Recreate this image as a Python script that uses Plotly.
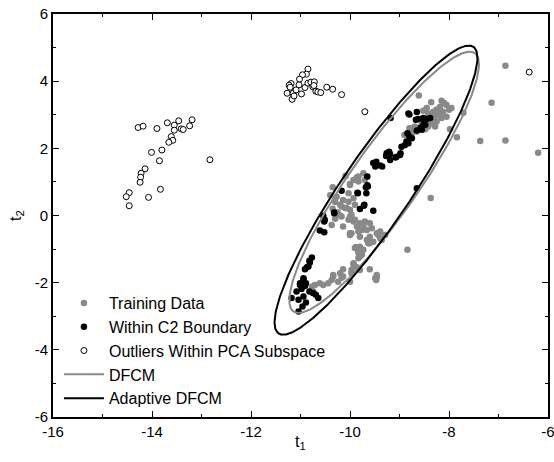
import numpy as np
import plotly.graph_objects as go

# ---------------- data ----------------
train_x = [-8.61, -8.36, -8.15, -8.05, -8.18, -8.25, -8.32, -8.12, -8.22, -8.32, -8.42, -8.52, -8.05, -8.15,
           -8.25, -8.35, -8.42, -8.48, -8.59, -8.69, -8.65, -8.75, -8.72, -7.71, -7.14, -7.98, -7.84, -7.37,
           -6.86, -8.28, -6.86, -6.20, -8.37, -8.84, -8.00, -8.10, -8.45, -8.20, -8.40, -8.30, -7.95, -8.55,
           -8.90, -8.80, -8.75,
           -10.35, -10.00, -9.83, -10.09, -9.86, -9.73, -9.70, -9.93, -10.00, -9.83, -10.03, -10.27, -10.14,
           -10.03, -9.93, -10.20, -10.10, -10.00, -9.90, -9.97, -10.03, -9.90, -9.80, -9.70, -9.60, -9.86,
           -9.76, -9.66, -9.56, -9.46, -9.60, -9.53, -9.63, -9.39, -10.00, -10.14, -9.90, -9.83, -9.76, -9.83,
           -9.93, -9.86, -9.97, -10.14, -10.17, -10.34, -9.46, -10.37, -10.17, -10.17, -10.07, -10.00, -9.93,
           -9.73, -10.00, -9.80, -9.43, -9.36, -9.63, -9.88, -9.29, -9.39, -9.83, -9.97, -9.66, -9.60, -9.80,
           -9.73, -9.83, -9.80, -9.93, -9.60, -9.46, -9.47, -10.20, -10.14, -10.24, -10.37, -10.44, -10.54,
           -10.34, -10.00, -9.97, -9.80, -10.74, -10.77, -10.61, -10.71, -9.49, -10.40, -10.30, -10.25,
           -10.30, -10.20, -10.35]
train_y = [3.57, 3.37, 3.42, 3.29, 3.24, 3.16, 3.09, 3.09, 2.99, 2.93, 3.04, 3.12, 2.94, 2.90,
           2.80, 2.75, 2.65, 2.57, 2.60, 2.65, 2.50, 2.45, 2.55, 3.06, 3.36, 2.57, 2.33, 2.22,
           2.23, 2.65, 4.46, 1.87, 0.52, -1.02, 3.15, 3.35, 3.20, 3.05, 2.85, 2.85, 3.20, 2.75,
           2.40, 2.60, 2.60,
           0.84, 0.94, 1.16, 1.18, 1.14, 1.26, 1.06, 1.06, 0.91, 1.01, 0.66, 0.56, 0.46,
           0.41, 0.51, 0.32, 0.22, 0.17, 0.32, 0.02, -0.13, -0.13, -0.23, -0.18, -0.23, -0.33,
           -0.43, -0.43, -0.38, -0.53, -0.63, -0.78, -0.78, -0.68, -0.53, -0.33, -0.97, -1.07, -1.17, -1.27,
           -1.47, -1.54, -1.62, -1.60, -1.85, -1.82, -1.84, -0.28, -0.03, 0.27, 0.22, -0.03, -0.18,
           -0.28, -0.58, -0.63, -0.58, -0.73, -0.83, -0.94, -0.58, -0.48, -0.48, -0.53, -0.73, -0.83, -0.93,
           -1.02, -1.12, -1.22, -1.42, -1.60, -1.77, -1.92, -1.72, -1.82, -1.97, -1.92, -2.02, -2.07,
           -1.77, -1.97, -1.72, -1.62, -2.26, -2.12, -2.02, -2.07, -1.87, 0.60, 0.40, 0.10,
           -0.10, 0.00, 0.20]

c2_x = [-9.18, -8.80, -8.65, -8.67, -8.52, -8.38, -8.51, -8.57, -8.65, -8.80, -8.86, -8.82, -8.89, -8.99,
        -9.08, -9.19, -9.26, -9.27, -9.19, -9.35, -9.39, -9.47, -9.53, -9.49, -9.65, -9.65, -9.68, -9.85,
        -10.17, -8.65, -9.71, -9.80, -9.53, -10.32, -10.54, -10.51,
        -8.82, -8.62, -8.45, -8.48, -8.55, -8.84, -8.75, -8.96, -8.98, -9.21, -9.06,
        -9.64, -9.84, -9.67, -9.72, -10.32, -10.52, -10.61, -10.52, -10.77, -10.82, -10.87, -10.91, -10.94,
        -10.94, -10.89, -11.01, -10.98, -11.08, -10.82, -10.75, -10.69, -10.64, -11.18, -10.94, -11.04,
        -10.96, -11.04, -10.89, -10.84, -10.81, -11.01, -10.91]
c2_y = [2.90, 3.01, 3.08, 2.85, 2.90, 2.90, 2.73, 2.62, 2.53, 2.35, 2.20, 2.15, 2.10, 1.80,
        1.73, 1.83, 1.85, 1.77, 1.65, 1.46, 1.49, 1.60, 1.56, 1.46, 1.16, 0.90, 0.84, 0.68,
        0.74, 0.81, 0.32, 0.19, 0.14, 0.07, -0.01, -0.13,
        3.04, 2.87, 2.87, 2.70, 2.55, 2.45, 2.30, 2.05, 1.85, 1.90, 1.75,
        0.86, 0.66, 0.66, 0.29, 0.09, -0.18, -0.45, -0.50, -1.25, -1.35, -1.54, -1.60, -1.87,
        -1.90, -2.02, -2.07, -2.19, -2.26, -2.26, -2.31, -2.36, -2.46, -2.46, -2.41, -2.51,
        -2.71, -2.86, -2.59, -1.52, -1.40, -2.02, -2.10]

out_x = [-14.28, -14.18, -13.90, -13.69, -13.55, -13.46, -13.55, -13.41, -13.37, -13.24, -13.19, -13.61,
         -13.58, -13.66, -14.01, -13.80, -13.85, -12.83, -14.14, -14.22, -14.23, -14.24, -13.83, -14.46,
         -14.52, -14.07, -14.46,
         -10.85, -10.88, -10.96, -11.02, -11.19, -11.23, -11.27, -11.17, -11.15, -11.09, -11.03, -10.98,
         -10.91, -10.85, -10.79, -10.72, -10.75, -10.69, -10.65, -10.59, -10.47, -10.35, -10.17, -9.70,
         -11.21, -11.13, -10.73, -6.38]
out_y = [2.62, 2.66, 2.59, 2.76, 2.69, 2.82, 2.54, 2.58, 2.56, 2.67, 2.85, 2.35,
         2.24, 2.18, 1.88, 1.95, 1.63, 1.66, 1.39, 1.26, 1.14, 0.99, 0.78, 0.68,
         0.56, 0.54, 0.29,
         4.36, 4.21, 4.19, 4.06, 3.93, 3.88, 3.64, 3.46, 3.64, 3.74, 3.89, 3.62,
         3.81, 3.94, 3.97, 3.98, 3.83, 3.70, 3.68, 3.66, 3.82, 3.76, 3.60, 3.09,
         3.82, 3.56, 3.87, 4.27]

# control-limit ellipses: centre and shape matrix entries [sxx, sxy, syy]
dfcm_center = [-9.31, 0.99]
dfcm_shape = [3.67, 6.73, 15.13]
adaptive_center = [-9.475, 0.755]
adaptive_shape = [4.20, 8.07, 18.53]

x_tickvals = [-16, -14, -12, -10, -8, -6]
x_ticktext = ["-16", "-14", "-12", "-10", "-8", "-6"]
y_tickvals = [-6, -4, -2, 0, 2, 4, 6]
y_ticktext = ["-6", "-4", "-2", "0", "2", "4", "6"]


def ellipse(center, shape, n=400):
    m = np.array([[shape[0], shape[1]], [shape[1], shape[2]]])
    L = np.linalg.cholesky(m)
    t = np.linspace(0, 2 * np.pi, n)
    pts = L @ np.vstack([np.cos(t), np.sin(t)])
    return pts[0] + center[0], pts[1] + center[1]


ex1, ey1 = ellipse(dfcm_center, dfcm_shape)
ex2, ey2 = ellipse(adaptive_center, adaptive_shape)

GRAY = "#898989"
FONT = "Liberation Sans, Arial"
fig = go.Figure()
fig.add_trace(go.Scatter(x=train_x, y=train_y, mode="markers", name="Training Data",
                         marker=dict(color=GRAY, size=6.5, line=dict(width=0))))
fig.add_trace(go.Scatter(x=c2_x, y=c2_y, mode="markers", name="Within C2 Boundary",
                         marker=dict(color="black", size=6.5, line=dict(width=0))))
fig.add_trace(go.Scatter(x=out_x, y=out_y, mode="markers", name="Outliers Within PCA Subspace",
                         marker=dict(color="white", size=6, line=dict(color="black", width=1))))
fig.add_trace(go.Scatter(x=ex1, y=ey1, mode="lines", name="DFCM",
                         line=dict(color=GRAY, width=2)))
fig.add_trace(go.Scatter(x=ex2, y=ey2, mode="lines", name="Adaptive DFCM",
                         line=dict(color="black", width=2)))

axis_common = dict(
    showgrid=False, zeroline=False, showline=True, linecolor="black", linewidth=1.6,
    mirror="allticks", ticks="inside", ticklen=6, tickwidth=1.2, tickcolor="black",
    automargin=False, ticklabeloverflow="allow",
    tickfont=dict(family=FONT, size=15, color="black"),
)
fig.update_xaxes(range=[-16, -6], tickmode="array", tickvals=x_tickvals, ticktext=x_ticktext,
                 minor=dict(ticks="inside", ticklen=3.5, dtick=1, tick0=-16, tickcolor="black", tickwidth=1.2),
                 **axis_common)
fig.update_yaxes(range=[-6, 6], tickmode="array", tickvals=y_tickvals, ticktext=y_ticktext,
                 minor=dict(ticks="inside", ticklen=3.5, dtick=1, tick0=-6, tickcolor="black", tickwidth=1.2),
                 **axis_common)

fig.add_annotation(text="t<sub>1</sub>", xref="paper", yref="paper", x=0.5, y=0,
                   xanchor="center", yanchor="top", yshift=-14, showarrow=False,
                   font=dict(family=FONT, size=16, color="black"))
fig.add_annotation(text="t<sub>2</sub>", xref="paper", yref="paper", x=0, y=0.5,
                   xanchor="right", yanchor="middle", xshift=-25, textangle=-90, showarrow=False,
                   font=dict(family=FONT, size=16, color="black"))

fig.update_layout(
    width=554, height=462,
    margin=dict(l=53, r=6, t=14, b=45),
    paper_bgcolor="white", plot_bgcolor="white",
    font=dict(family=FONT, color="black"),
    legend=dict(x=0.012, y=0.325, xanchor="left", yanchor="top", bgcolor="rgba(0,0,0,0)",
                font=dict(family=FONT, size=16, color="black"),
                itemwidth=40, tracegroupgap=0),
)

# remove the default page margin so the figure fills the window exactly
fig.write_html("out.html", config={"displayModeBar": False},
               post_script="document.body.style.margin='0';document.body.style.overflow='hidden';")
